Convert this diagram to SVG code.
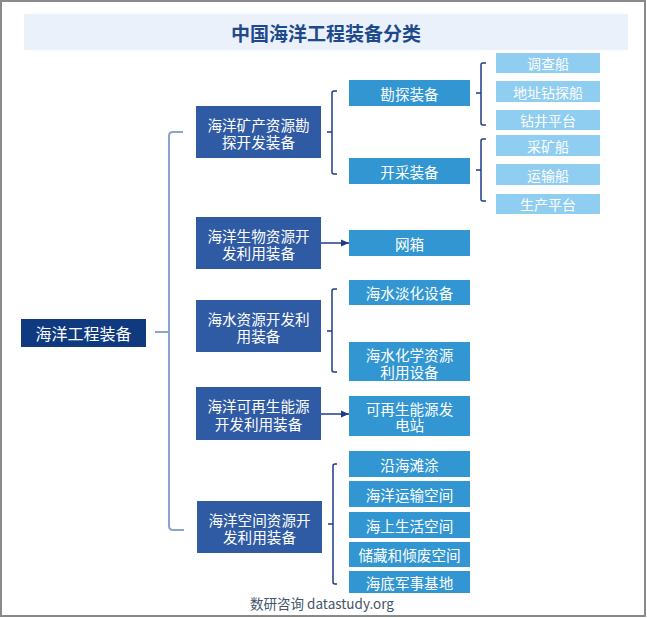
<svg xmlns="http://www.w3.org/2000/svg" width="647" height="618" viewBox="0 0 647 618">
<defs>
<style>
text{font-family:"Noto Sans CJK SC","Liberation Sans",sans-serif;text-anchor:middle;dominant-baseline:central;fill:#fff}
.root{fill:#0F3A80}
.l1{fill:#2F5AA4}
.l2{fill:#3196D2}
.l3{fill:#8FCDF1}
.t16{font-size:16px}
.t15{font-size:14.6px}
.t14{font-size:14px}
.br{fill:none;stroke:#1F3C88;stroke-width:1.5}
.main{fill:none;stroke:#8DA3CC;stroke-width:2}
</style>
<marker id="arr" markerWidth="8" markerHeight="8" refX="8" refY="4" orient="auto" markerUnits="userSpaceOnUse">
<path d="M0,0.5 L8,4 L0,7.5 Z" fill="#1F3C88"/>
</marker>
</defs>
<rect x="0" y="0" width="647" height="618" fill="#fff"/>
<rect x="1" y="1" width="644" height="615" fill="none" stroke="#8a8a8a" stroke-width="2"/>
<g id="title">
<rect x="24" y="14" width="604" height="36" fill="#EAF1FB"/>
<text x="326" y="32" style="font-size:19px;font-weight:700;fill:#1E4A8C">中国海洋工程装备分类</text>
</g>
<g id="connectors">
<path class="main" d="M155,332 H169 M183,132 H173 Q169,132 169,136 V526 Q169,530 173,530 H184"/>
<path class="br" d="M337,91 H334 Q332,91 332,93 V172 Q332,174 334,174 H337 M327,132 H332"/>
<path class="br" d="M486,63 H483 Q481,63 481,65 V123 Q481,125 483,125 H486 M476,93 H481"/>
<path class="br" d="M486,139 H483 Q481,139 481,141 V199 Q481,201 483,201 H486 M476,170 H481"/>
<path class="br" d="M337,289 H334 Q332,289 332,291 V370 Q332,372 334,372 H337 M327,331 H332"/>
<path class="br" d="M337,464 H335 Q333,464 333,466 V582 Q333,584 335,584 H337 M328,524 H333"/>
<line class="br" x1="321" y1="243" x2="349" y2="243" marker-end="url(#arr)"/>
<line class="br" x1="321" y1="414" x2="349" y2="414" marker-end="url(#arr)"/>
</g>
<g id="root"><rect class="root" x="21" y="319" width="125" height="28"/><text class="t16" x="83.5" y="333">海洋工程装备</text></g>
<g id="n1"><rect class="l1" x="196" y="106" width="125" height="52"/><text class="t15"><tspan x="258.5" y="123.5">海洋矿产资源勘</tspan><tspan x="258.5" y="141">探开发装备</tspan></text></g>
<g id="n2"><rect class="l1" x="196" y="217" width="125" height="52"/><text class="t15"><tspan x="258.5" y="234.5">海洋生物资源开</tspan><tspan x="258.5" y="252">发利用装备</tspan></text></g>
<g id="n3"><rect class="l1" x="196" y="300" width="125" height="52"/><text class="t15"><tspan x="258.5" y="317.5">海水资源开发利</tspan><tspan x="258.5" y="335">用装备</tspan></text></g>
<g id="n4"><rect class="l1" x="196" y="387" width="125" height="53"/><text class="t15"><tspan x="258.5" y="405">海洋可再生能源</tspan><tspan x="258.5" y="422.5">开发利用装备</tspan></text></g>
<g id="n5"><rect class="l1" x="197" y="501" width="125" height="52"/><text class="t15"><tspan x="259.5" y="518.5">海洋空间资源开</tspan><tspan x="259.5" y="536">发利用装备</tspan></text></g>
<g id="m1"><rect class="l2" x="349" y="80" width="121" height="26"/><text class="t15" x="409.5" y="93">勘探装备</text></g>
<g id="m2"><rect class="l2" x="349" y="158" width="121" height="26"/><text class="t15" x="409.5" y="171">开采装备</text></g>
<g id="m3"><rect class="l2" x="349" y="230" width="121" height="26"/><text class="t15" x="409.5" y="243">网箱</text></g>
<g id="m4"><rect class="l2" x="349" y="280" width="121" height="25"/><text class="t15" x="409.5" y="292.5">海水淡化设备</text></g>
<g id="m5"><rect class="l2" x="349" y="342" width="121" height="39"/><text class="t15"><tspan x="409.5" y="353.5">海水化学资源</tspan><tspan x="409.5" y="370.5">利用设备</tspan></text></g>
<g id="m6"><rect class="l2" x="349" y="396" width="121" height="40"/><text class="t15"><tspan x="409.5" y="407.5">可再生能源发</tspan><tspan x="409.5" y="424">电站</tspan></text></g>
<g id="m7"><rect class="l2" x="349" y="451" width="121" height="26"/><text class="t15" x="409.5" y="464">沿海滩涂</text></g>
<g id="m8"><rect class="l2" x="349" y="481" width="121" height="26"/><text class="t15" x="409.5" y="494">海洋运输空间</text></g>
<g id="m9"><rect class="l2" x="349" y="512" width="121" height="26"/><text class="t15" x="409.5" y="525">海上生活空间</text></g>
<g id="m10"><rect class="l2" x="349" y="542" width="121" height="25"/><text class="t15" x="409.5" y="554.5">储藏和倾废空间</text></g>
<g id="m11"><rect class="l2" x="349" y="571" width="121" height="22"/><text class="t15" x="409.5" y="582">海底军事基地</text></g>
<g id="s1"><rect class="l3" x="496" y="53" width="104" height="20"/><text class="t14" x="548" y="63">调查船</text></g>
<g id="s2"><rect class="l3" x="496" y="81" width="104" height="21"/><text class="t14" x="548" y="91.5">地址钻探船</text></g>
<g id="s3"><rect class="l3" x="496" y="110" width="104" height="20"/><text class="t14" x="548" y="120">钻井平台</text></g>
<g id="s4"><rect class="l3" x="496" y="135" width="104" height="21"/><text class="t14" x="548" y="145.5">采矿船</text></g>
<g id="s5"><rect class="l3" x="496" y="164" width="104" height="21"/><text class="t14" x="548" y="174.5">运输船</text></g>
<g id="s6"><rect class="l3" x="496" y="194" width="104" height="20"/><text class="t14" x="548" y="204">生产平台</text></g>
<text x="322" y="603" style="font-size:13.5px;fill:#44546A">数研咨询 datastudy.org</text>
</svg>
